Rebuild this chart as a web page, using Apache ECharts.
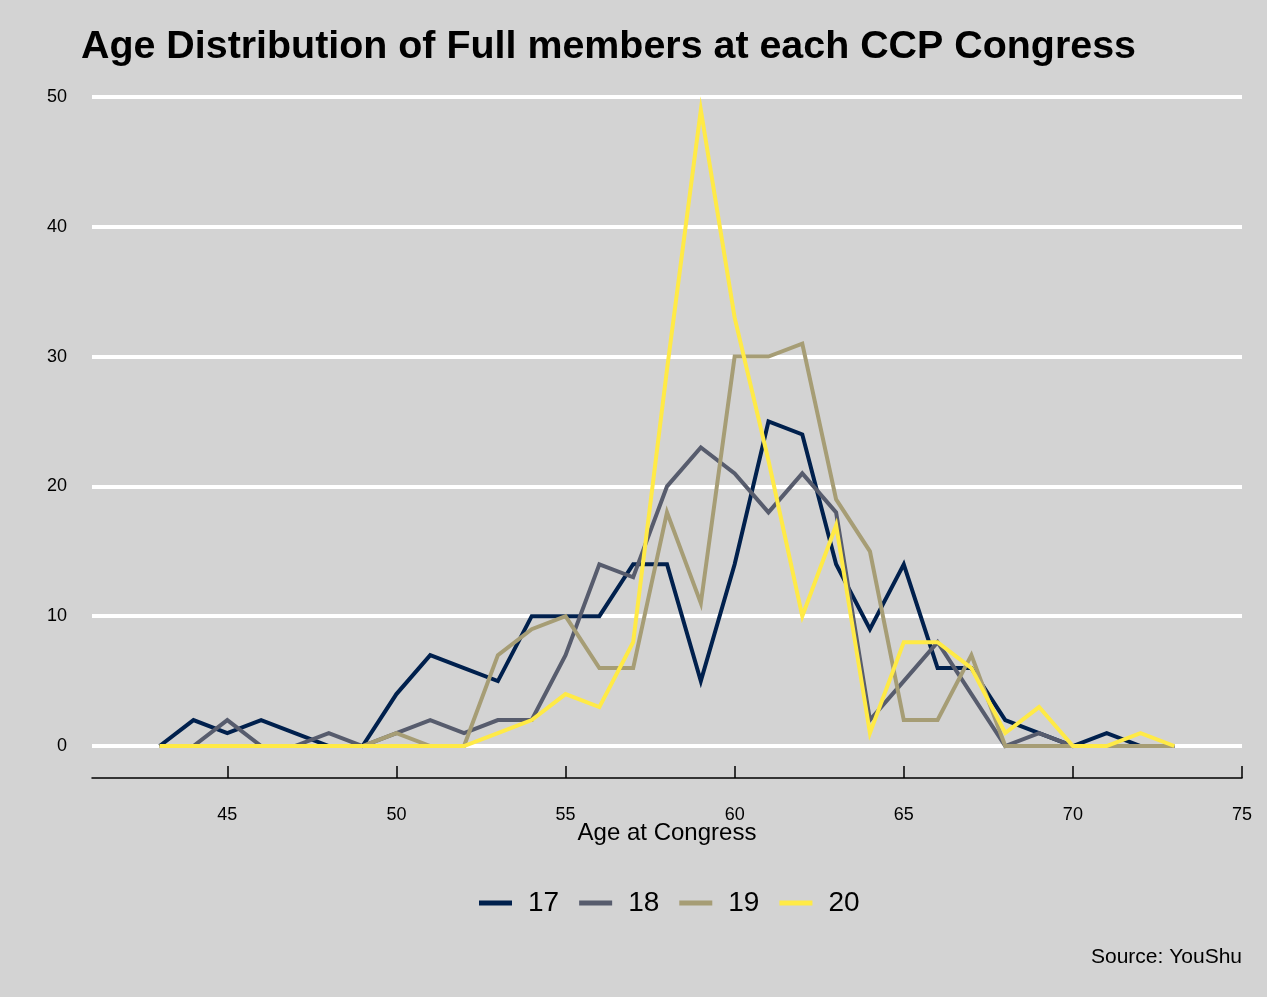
<!DOCTYPE html>
<html>
<head>
<meta charset="utf-8">
<script src="https://cdn.jsdelivr.net/npm/echarts@6/dist/echarts.min.js"></script>
<style>
html,body{margin:0;padding:0;background:#d3d3d3;}
#chart{width:1267px;height:997px;}
</style>
</head>
<body>
<div id="chart"></div>
<script>
// Age at Congress (x) 43..73
const ages = [43,44,45,46,47,48,49,50,51,52,53,54,55,56,57,58,59,60,61,62,63,64,65,66,67,68,69,70,71,72,73];
const congress17 = [0,2,1,2,1,0,0,4,7,6,5,10,10,10,14,14,5,14,25,24,14,9,14,6,6,2,1,0,1,0,0];
const congress18 = [0,0,2,0,0,1,0,1,2,1,2,2,7,14,13,20,23,21,18,21,18,2,5,8,4,0,1,0,0,0,0];
const congress19 = [0,0,0,0,0,0,0,1,0,0,7,9,10,6,6,18,11,30,30,31,19,15,2,2,7,0,0,0,0,0,0];
const congress20 = [0,0,0,0,0,0,0,0,0,0,1,2,4,3,8,29,49,33,22,10,17,1,8,8,6,1,3,0,0,1,0];
const seriesNames = ['17','18','19','20'];
const xTicks = [45,50,55,60,65,70,75];
const yTicks = [0,10,20,30,40,50];

const colors = ['#00204D','#575C6D','#A69D75','#FFEA46'];
const allData = [congress17, congress18, congress19, congress20];

const FONT = '"Liberation Sans", Arial, Helvetica, sans-serif';
const chart = echarts.init(document.getElementById('chart'));

chart.setOption({
  backgroundColor: '#d3d3d3',
  animation: false,
  textStyle: { fontFamily: FONT },
  title: [
    {
      text: 'Age Distribution of Full members at each CCP Congress',
      left: 81, top: 28, padding: 0,
      textStyle: { fontFamily: FONT, fontSize: 39.4, fontWeight: 'bold', color: '#000' }
    },
    {
      text: 'Source: YouShu',
      right: 25, top: 947, padding: 0,
      textStyle: { fontFamily: FONT, fontSize: 21, fontWeight: 'normal', color: '#000' }
    }
  ],
  legend: {
    data: seriesNames,
    left: 479, top: 889, padding: 0,
    icon: 'rect',
    itemWidth: 33, itemHeight: 5, itemGap: 20,
    textStyle: { fontFamily: FONT, fontSize: 28, color: '#000', padding: [0, 0, 0, 11] }
  },
  grid: { left: 92, right: 25, top: 97, bottom: 251, containLabel: false },
  xAxis: {
    type: 'value', min: 41, max: 75,
    position: 'bottom', offset: 32,
    name: 'Age at Congress', nameLocation: 'middle', nameGap: 43,
    nameMoveOverlap: false,
    nameTextStyle: { fontFamily: FONT, fontSize: 24, color: '#000' },
    axisLine: { show: true, onZero: false, lineStyle: { color: '#000', width: 1.5 } },
    axisTick: { show: true, inside: true, length: 12, customValues: xTicks, lineStyle: { color: '#000', width: 1.5 } },
    axisLabel: { customValues: xTicks, margin: 28, fontFamily: FONT, fontSize: 18, color: '#000' },
    splitLine: { show: false }
  },
  yAxis: {
    type: 'value', min: 0, max: 50, interval: 10,
    axisLine: { show: false },
    axisTick: { show: false },
    axisLabel: { margin: 25, fontFamily: FONT, fontSize: 18, color: '#000' },
    splitLine: { show: true, lineStyle: { color: '#ffffff', width: 4 } }
  },
  series: seriesNames.map((n, i) => ({
    name: n,
    type: 'line',
    data: ages.map((a, j) => [a, allData[i][j]]),
    symbol: 'none',
    clip: false,
    color: colors[i],
    lineStyle: { color: colors[i], width: 4, join: 'miter' },
    z: 2 + i
  }))
});
</script>
</body>
</html>
